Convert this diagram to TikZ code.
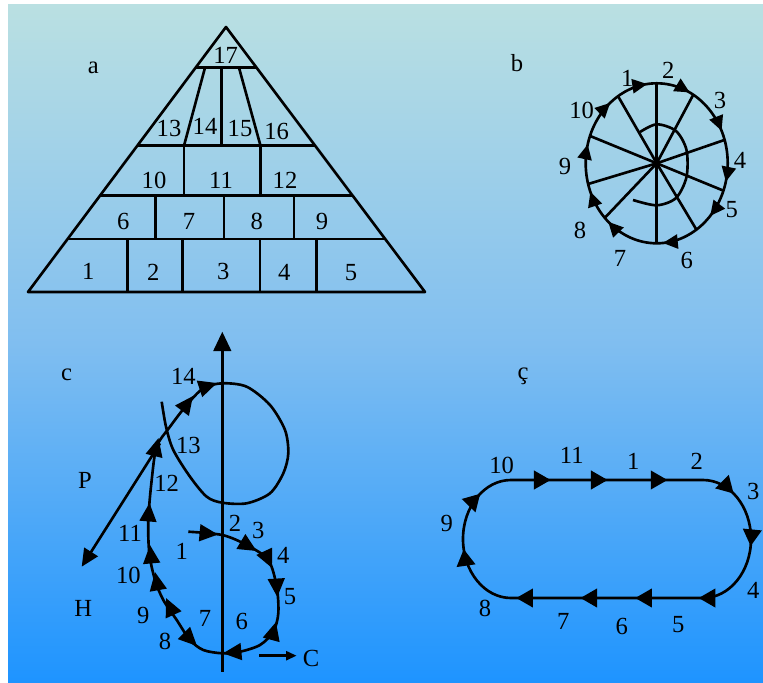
\documentclass[tikz,border=0pt]{standalone}
\usepackage{fontspec}
\setmainfont{Liberation Serif}
\usetikzlibrary{arrows.meta,decorations.markings}

\definecolor{skytop}{RGB}{186,224,226}
\definecolor{skymid}{RGB}{128,190,240}
\definecolor{skybot}{RGB}{30,148,255}

\tikzset{
  wheeltip/.tip={Triangle[length=8.5pt,width=8pt]},
  looptip/.tip={Triangle[length=10.5pt,width=9.5pt]},
  tracktip/.tip={Triangle[length=9.5pt,width=10.5pt]},
  wheelmark/.style={postaction={decorate,decoration={markings,mark=at position #1 with {\arrow{wheeltip}}}}},
  trackmark/.style={postaction={decorate,decoration={markings,mark=at position #1 with {\arrow{tracktip}}}}},
}

\begin{document}
\begin{tikzpicture}[x=0.02cm, y=-0.02cm, line width=1.5pt, line join=round,
    lbl/.style={font=\fontsize{14}{16}\selectfont, inner sep=0pt}]
  \useasboundingbox (0,0) rectangle (763,682);

  % Background
  \shade[top color=skytop, bottom color=skybot, middle color=skymid] (8,5) rectangle (763,682);

  % a: the pyramid
  \begin{scope}
    \clip (226,27) -- (425,292) -- (28,292) -- cycle;
    \foreach \y in {67.7,145.7,195.7,239}
      \draw (0,\y) -- (450,\y);
  \end{scope}
  \draw (226,27) -- (425,292) -- (28,292) -- cycle;
  \draw (205,67.7) -- (184,145.7);
  \draw (221.7,67.7) -- (221.7,145.7);
  \draw (239,67.7) -- (260.5,145.7);
  \foreach \x in {184,260.5} \draw (\x,145.7) -- (\x,195.7);
  \foreach \x in {155.3,224,294} \draw (\x,195.7) -- (\x,239);
  \foreach \x in {127.7,182.3,260,316.7} \draw (\x,239) -- (\x,292);
  \foreach \n/\x/\y in {1/88.3/271.7, 2/153.3/272.7, 3/223.3/271.7, 4/284.3/272.7, 5/351/272.7,
      6/123.3/221, 7/189/221, 8/256.7/221, 9/322/221,
      10/154/180.7, 11/221/180.7, 12/285/180.7,
      13/169/128.3, 14/205/126.7, 15/240/128.3, 16/276.7/131, 17/225.7/55}
    \node[lbl] (p\n) at (\x,\y) {\n};
  \node[lbl] (capa) at (93.3,67.7) {a};

  % b: the wheel
  \coordinate (hub) at (656.7,163.3);
  \draw[wheelmark/.list={0.730,0.823,0.930,0.039,0.119,0.237,0.365,0.439,0.540,0.641}]
    (hub) ellipse [x radius=71, y radius=80];
  \foreach \a in {-90,-59,-17,20,56,90,137,165,200,237}
    \draw (hub) -- ++(\a:71 and 80);
  \draw plot[smooth] coordinates {(640,132) (656.7,124.3) (676,131) (686.5,150) (686.5,177) (676,198) (656.7,205.3) (633,200)};
  \foreach \n/\x/\y in {1/627.3/78.3, 2/668.3/70, 3/720/100, 4/740/160, 5/731.7/210,
      6/686.7/260, 7/620/258.3, 8/580/230, 9/565/166.7, 10/581.7/110}
    \node[lbl] (w\n) at (\x,\y) {\n};
  \node[lbl] (capb) at (517,63) {b};

  % c: the loop
  \coordinate (axbot) at (222.3,671.7);
  \coordinate (axtop) at (222.3,331.7);
  \draw[-{Triangle[length=11pt,width=10pt]}] (axbot) -- (axtop);
  \draw plot[smooth] coordinates {(188.3,531.7) (222.3,535) (246.7,545) (268.3,560) (276.7,586.7)
      (278.3,613.3) (273.3,631.7) (260,645) (240,651.7) (222.3,653.3) (203.3,650) (190,640)
      (176.7,620) (163.3,600) (155,580) (149.3,553.3) (148.3,520) (151.7,480) (156.7,446.7)
      (170,426.7) (186.7,405) (203.3,388.3) (222.3,383.3) (246.7,386.7) (270,405) (285,430)
      (288.3,453.3) (283.3,473.3) (270,493.3) (246.7,503.3) (222.3,502.7) (206.7,496.7)
      (190,476.7) (173.3,450) (166,426.7) (161.7,401.7)};
  % arrow heads on the loop (tail/tip)
  \foreach \ax/\ay/\bx/\by in {200/532.8/218/534.5, 246.7/545/256.7/551, 268.3/560/272/568,
      276.7/586.7/277.3/597, 273.3/632/276/622, 240/651.7/223/653.3, 188/637/197/646,
      171/609/166/598, 157/583/155/572, 151/556/150/545, 148.5/515/149.5/503,
      155/452/158.5/438, 184/408/193/396, 205/387/217/383}
    \draw[-{looptip}] (\ax,\ay) -- (\bx,\by);
  \coordinate (pend) at (160,443.3);
  \coordinate (htip) at (81.7,566.7);
  \draw[-{Triangle[length=10pt,width=9pt]}] (pend) -- (htip);
  \coordinate (cfrom) at (259.3,655.7);
  \coordinate (cto) at (296.7,655.7);
  \draw[-{Triangle[length=6pt,width=5pt]}] (cfrom) -- (cto);
  \foreach \n/\x/\y in {1/181.7/551.7, 2/235/523.3, 3/258.3/530, 4/283.3/555, 5/290/596.7,
      6/241.7/621.7, 7/205/618.3, 8/165/641.7, 9/143.3/615, 10/128.3/575,
      11/130/533.3, 12/166.7/483.3, 13/188.3/445, 14/183.3/376.7}
    \node[lbl] (c\n) at (\x,\y) {\n};
  \node[lbl] (capc) at (66.7,375) {c};
  \node[lbl] (capp) at (85,480) {P};
  \node[lbl] (caph) at (83.3,608.3) {H};
  \node[lbl] (capcc) at (311,658) {C};

  % c-cedilla: the track
  \draw[trackmark/.list={0.055,0.134,0.217,0.314,0.393,0.506,0.594,0.670,0.759,0.869,0.952}]
    (511,480) -- (703,480) arc[start angle=-90, end angle=90, x radius=48, y radius=59]
    -- (511,598) arc[start angle=90, end angle=270, x radius=48, y radius=59] -- cycle;
  \foreach \n/\x/\y in {10/501.7/465, 11/571.7/455, 1/633.3/461.7, 2/696.7/461.7, 3/753.3/491.7,
      4/753.3/590, 5/678.3/625, 6/621.7/626.7, 7/563.3/621.7, 8/485/608.3, 9/446.7/523.3}
    \node[lbl] (t\n) at (\x,\y) {\n};
  \node[lbl] (capcd) at (523,376) {ç};
\end{tikzpicture}
\end{document}
